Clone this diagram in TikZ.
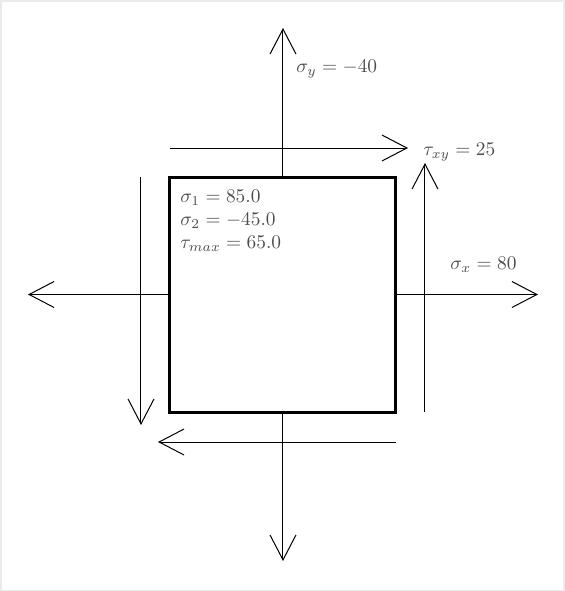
\documentclass[tikz,border=0pt]{standalone}
\usetikzlibrary{arrows.meta}

\tikzset{
  arr/.style={-{Straight Barb[length=12.5pt,width=13pt]},line width=0.5pt},
  lbl/.style={text=black!70,inner sep=0pt,anchor=west,scale=0.97}
}

\begin{document}
\begin{tikzpicture}[x=0.5pt,y=-0.5pt]
\useasboundingbox (0,0) rectangle (565,591);
\draw[black!8,line width=1pt](0.5,0.5) rectangle (564.5,590.5);
\node[draw=black,line width=1.5pt,minimum width=113pt,minimum height=117.5pt,inner sep=0pt](box)at(283,294.5){};
\coordinate(t)at(283,28);
\coordinate(b)at(283,561);
\coordinate(l)at(28,294.5);
\coordinate(r)at(538,294.5);
\coordinate(ts)at(170,148);
\coordinate(te)at(408,148);
\coordinate(rs)at(425,412);
\coordinate(re)at(425,163);
\coordinate(bs)at(396,442);
\coordinate(be)at(158,442);
\coordinate(ls)at(141,177);
\coordinate(le)at(141,425);
\draw[arr](box.north)--(t);
\draw[arr](box.south)--(b);
\draw[arr](box.west)--(l);
\draw[arr](box.east)--(r);
\draw[arr](ts)--(te);
\draw[arr](rs)--(re);
\draw[arr](bs)--(be);
\draw[arr](ls)--(le);
\node[lbl](sy)at(296,69.5){$\sigma_y = -40$};
\node[lbl](txy)at(423,152.5){$\tau_{xy} = 25$};
\node[lbl](sx)at(450,264.5){$\sigma_x = 80$};
\node[lbl,anchor=north west,align=left](res)at(180,189.5){$\sigma_1 = 85.0$\\$\sigma_2 = -45.0$\\$\tau_{max} = 65.0$};
\end{tikzpicture}
\end{document}
